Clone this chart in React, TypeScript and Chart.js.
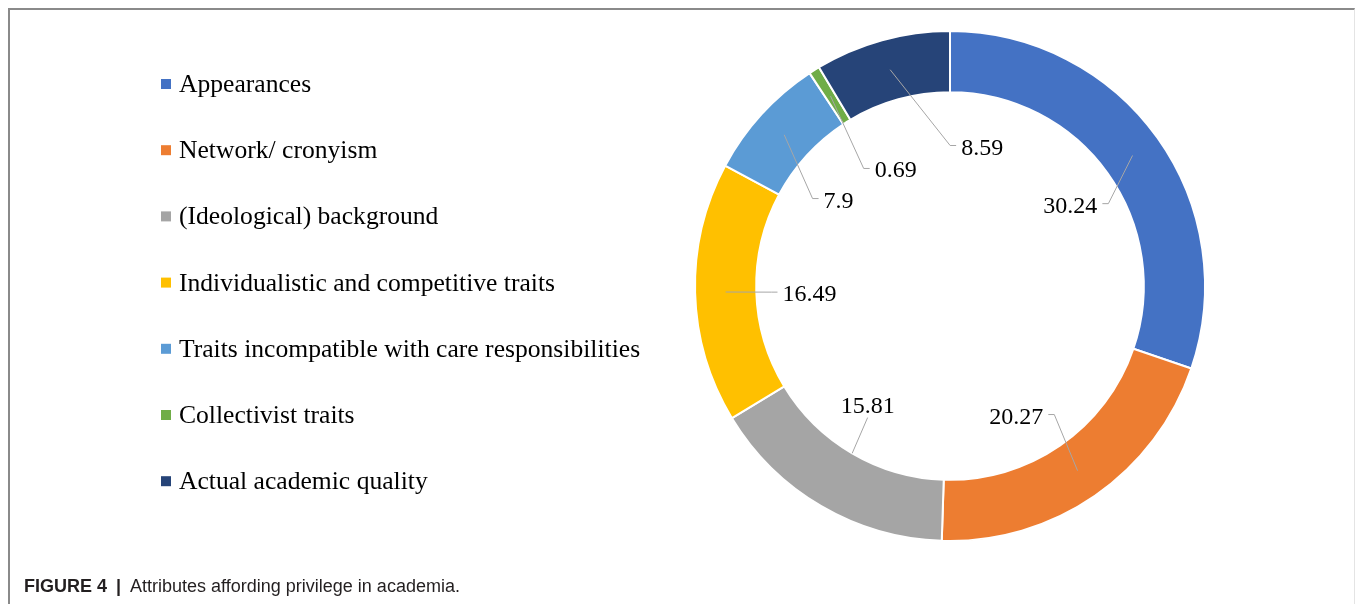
import React, { useEffect, useRef } from "react";
import { Chart, registerables } from "chart.js";

Chart.register(...registerables);

const categories = [
  "Appearances",
  "Network/ cronyism",
  "(Ideological) background",
  "Individualistic and competitive traits",
  "Traits incompatible with care responsibilities",
  "Collectivist traits",
  "Actual academic quality",
];
const shares = [30.24, 20.27, 15.81, 16.49, 7.9, 0.69, 8.59];
const valueLabels = ["30.24", "20.27", "15.81", "16.49", "7.9", "0.69", "8.59"];
const colors = ["#4472C4", "#ED7D31", "#A5A5A5", "#FFC000", "#5B9BD5", "#70AD47", "#264478"];

// label centre offsets from the doughnut centre, as fractions of the outer radius
const labelOffsetX = [0.472, 0.26, -0.323, -0.551, -0.437, -0.213, 0.126];
const labelOffsetY = [-0.319, 0.508, 0.465, 0.028, -0.339, -0.457, -0.547];
// where the leader line meets the ring (0 = inner edge, 1 = outer edge)
const leaderDepth = [0.5, 0.5, 0, 0.5, 0.5, 0.5, 0.5];

const LABEL_FONT = "24px 'Liberation Serif', 'Times New Roman', serif";
const LEGEND_FONT = "25.6px 'Liberation Serif', 'Times New Roman', serif";
const LEGEND_X = 161;
const LEGEND_TOP = 84;
const LEGEND_STEP = 66.2;

const labelsPlugin = {
  id: "leaderLabels",
  afterDatasetsDraw(chart: any) {
    const ctx = chart.ctx;
    const meta = chart.getDatasetMeta(0);
    ctx.save();
    ctx.font = LABEL_FONT;
    meta.data.forEach((arc: any, i: number) => {
      const p = arc.getProps(["x", "y", "startAngle", "endAngle", "innerRadius", "outerRadius"], true);
      const mid = (p.startAngle + p.endAngle) / 2;
      const r = p.innerRadius + (p.outerRadius - p.innerRadius) * leaderDepth[i];
      const ax = p.x + Math.cos(mid) * r;
      const ay = p.y + Math.sin(mid) * r;
      const cx = p.x + labelOffsetX[i] * p.outerRadius;
      const cy = p.y + labelOffsetY[i] * p.outerRadius;
      const text = valueLabels[i];
      const w = ctx.measureText(text).width;
      const h = 16;
      const left = cx - w / 2;
      const right = cx + w / 2;
      ctx.strokeStyle = "#A6A6A6";
      ctx.lineWidth = 1;
      ctx.beginPath();
      if (ax > right) {
        ctx.moveTo(right + 5, cy - 1);
        ctx.lineTo(right + 11, cy - 1);
        ctx.lineTo(ax, ay);
      } else if (ax < left) {
        ctx.moveTo(left - 5, cy - 1);
        ctx.lineTo(left - 11, cy - 1);
        ctx.lineTo(ax, ay);
      } else if (ay > cy) {
        ctx.moveTo(cx, cy + h / 2 + 5);
        ctx.lineTo(ax, ay);
      } else {
        ctx.moveTo(cx, cy - h / 2 - 5);
        ctx.lineTo(ax, ay);
      }
      ctx.stroke();
      ctx.fillStyle = "#000";
      ctx.textAlign = "center";
      ctx.textBaseline = "alphabetic";
      ctx.fillText(text, cx, cy + 8);
    });
    ctx.restore();
  },
  afterDraw(chart: any) {
    const ctx = chart.ctx;
    const labels = chart.data.labels as string[];
    const bg = chart.data.datasets[0].backgroundColor as string[];
    ctx.save();
    ctx.font = LEGEND_FONT;
    ctx.textAlign = "left";
    ctx.textBaseline = "alphabetic";
    labels.forEach((lab, i) => {
      const cy = LEGEND_TOP + i * LEGEND_STEP;
      ctx.fillStyle = bg[i];
      ctx.fillRect(LEGEND_X, cy - 5, 10, 10);
      ctx.fillStyle = "#000";
      ctx.fillText(lab, LEGEND_X + 18, cy + 8);
    });
    ctx.restore();
  },
};

export default function App() {
  const ref = useRef<HTMLCanvasElement | null>(null);
  useEffect(() => {
    if (!ref.current) return;
    const chart = new Chart(ref.current, {
      type: "doughnut",
      data: {
        labels: categories,
        datasets: [
          {
            data: shares,
            backgroundColor: colors,
            borderColor: "#FFFFFF",
            borderWidth: 2,
          },
        ],
      },
      options: {
        responsive: false,
        animation: false,
        cutout: "76%",
        layout: { padding: { left: 694, right: 149, top: 30, bottom: 62 } },
        plugins: {
          legend: { display: false },
          tooltip: { enabled: false },
        },
      },
      plugins: [labelsPlugin],
    });
    return () => chart.destroy();
  }, []);

  return (
    <div>
      <div
        style={{
          position: "fixed",
          left: 8,
          top: 8,
          width: 1347,
          height: 596,
          boxSizing: "border-box",
          borderTop: "2px solid #8a8a8a",
          borderLeft: "2px solid #8a8a8a",
          borderRight: "1px solid #e4e4e4",
        }}
      />
      <canvas
        ref={ref}
        width={1355}
        height={604}
        style={{ position: "fixed", left: 0, top: 0, width: 1355, height: 604 }}
      />
      <div
        style={{
          position: "fixed",
          left: 24,
          top: 576,
          fontFamily: "'Liberation Sans', Arial, sans-serif",
          fontSize: 18,
          lineHeight: "20px",
          color: "#231f20",
          whiteSpace: "nowrap",
        }}
      >
        <b>FIGURE 4</b>
        <span style={{ margin: "0 9px", fontWeight: 700 }}>|</span>
        <span>Attributes affording privilege in academia.</span>
      </div>
    </div>
  );
}
